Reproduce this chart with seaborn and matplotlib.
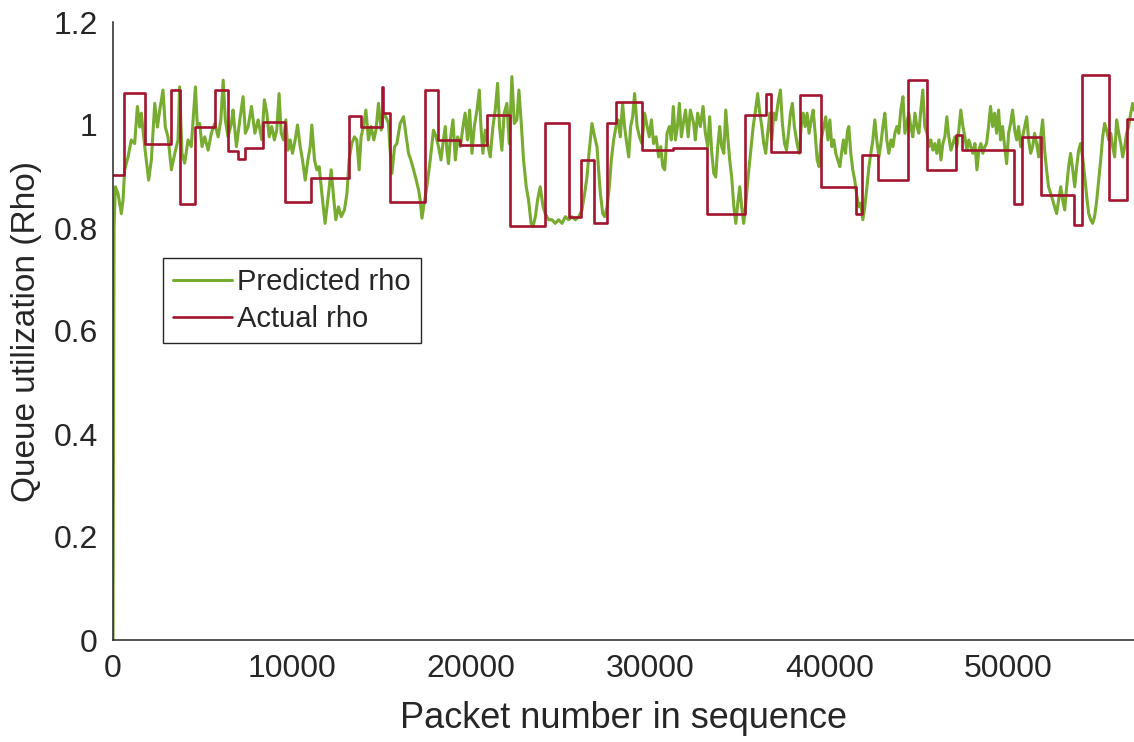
import matplotlib
matplotlib.use("Agg")
import matplotlib.pyplot as plt
import seaborn as sns
import numpy as np
import pandas as pd

# ---------------- data ----------------
# Predicted rho (green) : packet number / value
pred_x = [
    0, 60, 130, 280, 465, 560, 650, 840, 1020, 1210,
    1360, 1490, 1580, 1770, 1860, 1990, 2140, 2330, 2480, 2610,
    2790, 2920, 3070, 3260, 3450, 3630, 3720, 3850, 4000, 4190,
    4370, 4600, 4710, 4840, 4970, 5120, 5310, 5490, 5680, 5870,
    6020, 6150, 6270, 6420, 6610, 6700, 6890, 7080, 7260, 7390,
    7540, 7730, 7920, 8100,
    8310, 8450, 8590, 8720, 8860, 9010, 9140, 9270, 9390, 9520,
    9650, 9760, 9890, 10020, 10170, 10300, 10450, 10580, 10730, 10880,
    11010, 11100, 11250, 11380, 11510, 11660, 11840, 11990, 12180, 12330,
    12440, 12590, 12740, 12920, 13060, 13180, 13330, 13480, 13610, 13740,
    13850, 13980, 14120, 14260, 14410, 14560, 14680, 14820, 14970, 15100,
    15230, 15380, 15470, 15570, 15720, 15850, 16030, 16220,
    16370, 16500, 16630, 16780, 16930, 17060, 17150, 17250, 17370, 17520,
    17710, 17890, 18040, 18170, 18310, 18420, 18550, 18640, 18730, 18830,
    18980, 19110, 19240, 19390, 19540, 19660, 19790, 19910, 20040, 20170,
    20320, 20450, 20540, 20650, 20780, 20910, 21060, 21210, 21340, 21470,
    21580, 21710, 21840, 21990, 22120, 22270, 22400, 22550, 22660, 22780,
    22920, 23070, 23200, 23340, 23450, 23580, 23700, 23850, 24010, 24130,
    24320,
    24510, 24690, 24880, 25070, 25250, 25440, 25620, 25810, 26000, 26180,
    26330, 26460, 26590, 26740, 26890, 27020, 27110, 27210, 27340, 27450,
    27580, 27710, 27820, 27950, 28080, 28200, 28320, 28450, 28560, 28680,
    28790, 28900, 29010, 29120, 29260, 29390, 29530, 29680, 29820, 29940,
    30060, 30180, 30320, 30460, 30580, 30690, 30800, 30930, 31060, 31170,
    31280, 31400, 31510, 31620, 31730, 31840, 31960, 32110, 32230, 32420,
    32510, 32640, 32790, 32940, 33070, 33200, 33310, 33430, 33540, 33650,
    33760, 33870, 33980, 34100, 34210, 34320, 34430, 34540, 34660, 34770,
    34880, 34990, 35100, 35210, 35330, 35440, 35590, 35740, 35870, 35990,
    36110, 36220, 36330, 36440, 36550, 36670, 36780, 36890, 37000, 37150,
    37260, 37370, 37490, 37600, 37710, 37820, 37930, 38040, 38190, 38310,
    38420, 38530, 38640, 38750, 38860, 38980, 39090, 39200, 39310, 39420,
    39530, 39680, 39790, 39910, 40020, 40130, 40240, 40350, 40460, 40580,
    40670, 40780, 40890, 41010, 41080, 41190, 41300, 41410, 41530, 41640,
    41750, 41860, 41970, 42090, 42200, 42310, 42420, 42530, 42640, 42760,
    42870, 42980, 43090, 43200, 43310, 43430, 43540, 43650, 43760, 43870,
    43980, 44100, 44210, 44320, 44430, 44540, 44650, 44770, 44880, 44990,
    45100, 45210, 45320, 45440, 45550, 45660, 45770, 45880, 45990, 46110,
    46220, 46330, 46440, 46550, 46660, 46780, 46890, 47000, 47110, 47220,
    47330, 47450, 47560, 47670, 47780, 47890, 48000, 48120, 48230, 48340,
    48450, 48560, 48670,
    48770, 48880, 48990, 49110, 49220, 49330, 49440, 49550, 49660, 49780,
    49890, 50000, 50110, 50220, 50340, 50450, 50560, 50670, 50780, 50890,
    51010, 51120, 51230, 51340, 51450, 51560, 51680, 51790, 51900, 52010,
    52120, 52230, 52350, 52460, 52570, 52680, 52790, 52910, 53020, 53130,
    53240, 53350, 53460, 53580, 53690, 53800, 53910, 54020, 54130, 54250,
    54360, 54470, 54580, 54690, 54800, 54920, 55030, 55140, 55250, 55360,
    55470, 55590, 55700, 55810, 55920, 56030, 56150, 56260, 56370, 56480,
    56590, 56700, 56820, 56930, 57000,
]
pred_y = [
    0.0, 0.80, 0.880, 0.867, 0.828, 0.854, 0.913, 0.938, 0.971, 0.964,
    1.036, 0.996, 1.023, 0.958, 0.932, 0.893, 0.932, 1.042, 0.996, 1.029,
    1.068, 0.996, 0.977, 0.913, 0.945, 0.971, 1.074, 0.945, 0.926, 0.971,
    0.958, 1.074, 0.996, 1.003, 0.958, 0.977, 0.951, 0.984, 1.003, 0.977,
    1.010, 1.087, 1.010, 0.977, 1.003, 1.029, 0.958, 1.010, 1.055, 0.984,
    0.996, 1.036, 0.984, 1.010,
    0.971, 1.049, 1.023, 0.977, 0.997, 0.971, 0.990, 1.061, 0.984, 0.971,
    1.010, 0.951, 0.971, 0.945, 0.971, 1.000, 0.958, 0.932, 0.893, 0.932,
    0.958, 1.000, 0.932, 0.913, 0.919, 0.867, 0.809, 0.854, 0.913, 0.854,
    0.816, 0.841, 0.822, 0.835, 0.867, 0.932, 0.964, 0.977, 0.971, 0.913,
    0.977, 0.997, 1.029, 0.971, 0.997, 0.971, 0.990, 1.042, 0.990, 1.023,
    1.016, 1.003, 0.951, 0.906, 0.958, 0.964, 1.003, 1.016,
    0.977, 0.945, 0.932, 0.913, 0.893, 0.874, 0.854, 0.819, 0.848, 0.880,
    0.932, 0.990, 0.977, 0.958, 0.932, 0.964, 0.997, 0.951, 0.925, 0.971,
    1.010, 0.932, 0.977, 0.958, 0.997, 1.023, 0.971, 1.029, 0.945, 0.997,
    1.029, 1.068, 0.997, 0.945, 0.990, 0.964, 0.938, 0.997, 1.029, 1.081,
    0.997, 0.951, 1.023, 1.042, 0.964, 1.094, 1.003, 1.010, 1.068, 1.010,
    0.932, 0.880, 0.854, 0.809, 0.803, 0.822, 0.854, 0.880, 0.841, 0.828,
    0.816,
    0.816, 0.809, 0.816, 0.809, 0.822, 0.816, 0.822, 0.816, 0.822, 0.835,
    0.867, 0.899, 0.951, 1.003, 0.977, 0.958, 0.913, 0.867, 0.828, 0.822,
    0.841, 0.880, 0.932, 0.971, 0.997, 1.010, 0.977, 1.042, 0.997, 0.964,
    0.938, 0.997, 1.016, 1.061, 0.997, 0.977, 0.964, 1.023, 0.997, 0.977,
    1.010, 0.964, 0.977, 0.938, 0.958, 0.919, 0.913, 0.984, 0.997, 0.971,
    1.036, 0.971, 0.997, 1.042, 0.977, 1.003, 1.029, 0.977, 1.029, 1.003,
    0.971, 1.023, 0.997, 1.036, 0.984, 0.958, 1.016, 0.945, 0.906, 0.899,
    0.958, 0.997, 0.958, 0.945, 1.029, 0.977, 0.932, 0.899, 0.841, 0.809,
    0.848, 0.880, 0.841, 0.809, 0.848, 0.893, 0.945, 0.997, 1.029, 1.061,
    1.023, 0.997, 0.964, 0.945, 0.984, 1.023, 0.971, 1.023, 1.010, 1.049,
    1.068, 1.003, 0.964, 0.951, 0.984, 1.023, 1.042, 0.997, 0.964, 0.945,
    0.997, 1.023, 0.997, 1.023, 0.984, 1.010, 1.029, 0.984, 0.932, 0.919,
    0.971, 0.997, 1.016, 0.971, 1.010, 0.958, 0.971, 0.945, 0.932, 0.919,
    0.945, 0.971, 0.945, 0.990, 0.997, 0.945, 0.913, 0.893, 0.861, 0.841,
    0.848, 0.816, 0.841, 0.880, 0.919, 0.945, 0.971, 1.010, 0.971, 0.938,
    0.964, 0.997, 1.023, 0.971, 0.945, 0.971, 0.958, 0.984, 0.997, 0.984,
    1.029, 1.055, 0.984, 1.003, 1.023, 0.997, 0.977, 1.023, 0.997, 0.984,
    1.029, 1.068, 0.997, 0.984, 0.958, 0.971, 0.951, 0.964, 0.945, 0.971,
    0.932, 0.964, 0.977, 1.016, 0.977, 0.951, 0.964, 0.977, 0.958, 0.990,
    1.029, 0.997, 0.977, 0.951, 0.971, 0.958, 0.945, 0.964, 0.913, 0.951,
    0.964, 0.945, 0.958,
    0.964, 0.997, 1.036, 0.997, 1.023, 0.984, 1.029, 0.971, 0.997, 0.958,
    0.925, 0.984, 1.003, 1.029, 0.990, 0.971, 0.997, 0.958, 0.977, 0.997,
    1.016, 0.971, 0.945, 0.958, 0.984, 0.964, 0.938, 0.977, 1.010, 0.951,
    0.913, 0.880, 0.867, 0.854, 0.841, 0.828, 0.854, 0.880, 0.854, 0.835,
    0.880, 0.919, 0.945, 0.913, 0.880, 0.919, 0.951, 0.964, 0.938, 0.899,
    0.861, 0.828, 0.816, 0.809, 0.822, 0.854, 0.893, 0.932, 0.977, 1.003,
    0.990, 0.971, 0.984, 0.958, 0.938, 1.010, 0.984, 0.964, 0.938, 0.958,
    0.984, 0.997, 1.023, 1.042, 1.029,
]

# Actual rho (red): step start positions and levels
actual_x = [
    0, 610, 1770, 3260, 3720, 4560, 5720, 6420, 6980, 7360,
    8400, 9610, 11060, 13180, 13850, 15010, 15070, 15470, 17430, 18120,
    19390, 20880, 22140, 24130, 25450, 26150, 26850, 27600, 28080, 29550,
    31280, 33170, 35310, 36480, 36740, 38380, 39530, 41490, 41820, 42720,
    44400, 45460, 47040, 47370, 50300, 50760, 51790, 53650, 54120, 55610,
    56630, 57000,
]
actual_y = [
    0.902, 1.062, 0.964, 1.068, 0.846, 0.997, 1.068, 0.950, 0.934, 0.956,
    1.006, 0.851, 0.898, 1.017, 0.997, 1.074, 1.023, 0.851, 1.068, 0.971,
    0.961, 1.019, 0.803, 1.003, 0.821, 0.932, 0.810, 1.004, 1.045, 0.951,
    0.955, 0.827, 1.019, 1.061, 0.948, 1.058, 0.880, 0.827, 0.941, 0.893,
    1.087, 0.913, 0.981, 0.951, 0.847, 0.977, 0.864, 0.806, 1.097, 0.854,
    1.012, 1.012,
]

x_ticks = [0, 10000, 20000, 30000, 40000, 50000]
x_tick_labels = ["0", "10000", "20000", "30000", "40000", "50000"]
y_ticks = [0, 0.2, 0.4, 0.6, 0.8, 1.0, 1.2]
y_tick_labels = ["0", "0.2", "0.4", "0.6", "0.8", "1", "1.2"]

assert len(pred_x) == len(pred_y), (len(pred_x), len(pred_y))
assert len(actual_x) == len(actual_y)

pred_df = pd.DataFrame({"packet": pred_x, "rho": pred_y})
act_df = pd.DataFrame({"packet": actual_x, "rho": actual_y})

# ---------------- plot ----------------
sns.set_theme(style="white")
plt.rcParams["font.family"] = ["Liberation Sans", "DejaVu Sans"]

TXT = "#262626"
GREEN = "#77AC30"
RED = "#A2142F"

fig = plt.figure(figsize=(11.34, 7.42), dpi=100)
ax = fig.add_axes([113 / 1134, 102 / 742, 1 - 113 / 1134, 618 / 742])

sns.lineplot(data=pred_df, x="packet", y="rho", ax=ax, color=GREEN,
             linewidth=2.2, label="Predicted rho", sort=False)
sns.lineplot(data=act_df, x="packet", y="rho", ax=ax, color=RED,
             linewidth=1.9, label="Actual rho", sort=False,
             drawstyle="steps-post")

ax.set_xlim(0, 57000)
ax.set_ylim(0, 1.2)
ax.set_xticks(x_ticks)
ax.set_xticklabels(x_tick_labels)
ax.set_yticks(y_ticks)
ax.set_yticklabels(y_tick_labels)

ax.tick_params(direction="in", length=7, width=1.1, colors=TXT,
               labelsize=23, labelcolor=TXT)
ax.tick_params(axis="y", pad=11)
ax.tick_params(axis="x", pad=10)

for side in ["top", "right"]:
    ax.spines[side].set_visible(False)
for side in ["left", "bottom"]:
    ax.spines[side].set_color(TXT)
    ax.spines[side].set_linewidth(1.1)

ax.set_xlabel("Packet number in sequence", fontsize=26, color=TXT, labelpad=12)
ax.set_ylabel("Queue utilization (Rho)", fontsize=24, color=TXT, labelpad=8)

leg = ax.legend(loc="upper left", bbox_to_anchor=(50 / 1021, (640 - 258) / 618),
                fontsize=21, frameon=True, fancybox=False, framealpha=1,
                edgecolor=TXT, handlelength=2.0, handletextpad=0.2,
                labelspacing=0.3, borderpad=0.35, borderaxespad=0)
leg.get_frame().set_linewidth(1.0)
for t in leg.get_texts():
    t.set_color(TXT)

fig.savefig("out.png", dpi=100)
